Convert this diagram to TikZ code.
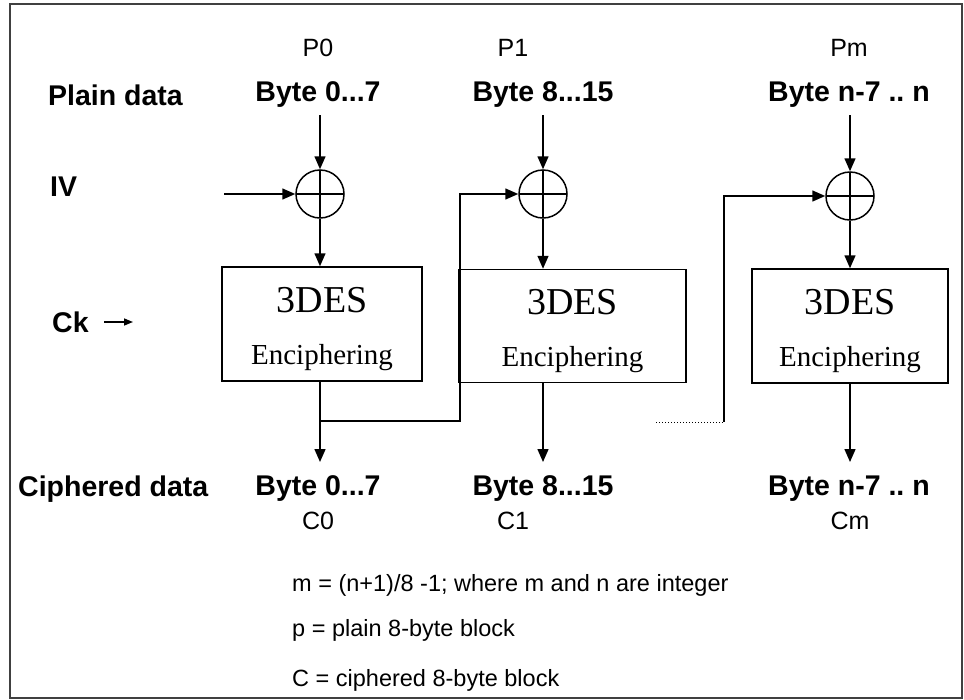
\documentclass[tikz,border=0pt]{standalone}
\usepackage{fontspec}
\setmainfont{Liberation Sans}
\newfontfamily\serifface{Liberation Serif}
\usetikzlibrary{arrows.meta}
\frenchspacing

\tikzset{
  lbl/.style={inner sep=0pt, font=\fontsize{28.5}{32}\selectfont\bfseries},
  idx/.style={inner sep=0pt, font=\fontsize{25}{30}\selectfont},
  note/.style={inner sep=0pt, anchor=west, font=\fontsize{23.5}{27}\selectfont},
  xorop/.style={circle, draw, line width=1.5pt, minimum size=48pt, inner sep=0pt,
    path picture={\draw[line width=1.2pt] (path picture bounding box.north) -- (path picture bounding box.south)
                  (path picture bounding box.west) -- (path picture bounding box.east);}},
  desbox/.style={draw, line width=1.5pt, inner sep=0pt},
  flow/.style={line width=1.5pt, -{Triangle[length=13pt,width=11pt]}},
}

\begin{document}
\begin{tikzpicture}[x=1pt,y=-1pt]
  \useasboundingbox (0,0) rectangle (964,699);
  % outer frame
  \draw[line width=2pt, black!75] (10,4) rectangle (962,698);

  % column headers
  \node[idx] (p0) at (318,48) {P0};
  \node[idx] (p1) at (513,48) {P1};
  \node[idx] (pm) at (849,48) {Pm};

  \node[lbl, anchor=west] (plain) at (48,95) {Plain data};
  \node[lbl] (in0) at (318,95) {Byte 0...7};
  \node[lbl] (in1) at (543,95) {Byte 8...15};
  \node[lbl] (inm) at (849,95) {Byte n-7 .. n};

  \node[lbl, anchor=west] (iv) at (50,187) {IV};
  \node[lbl, anchor=west] (ck) at (52,322) {Ck};

  % XOR operators
  \node[xorop] (x0) at (320,194) {};
  \node[xorop] (x1) at (543,194) {};
  \node[xorop] (xm) at (850,196) {};

  % cipher blocks
  \node[desbox, minimum width=200pt, minimum height=114pt] (b0) at (322,324) {};
  \node[desbox, minimum width=227pt, minimum height=113pt] (b1) at (572.5,326) {};
  \node[desbox, minimum width=196pt, minimum height=114pt] (bm) at (850,326) {};
  \foreach \b in {b0,b1,bm}{
    \node[inner sep=0pt, font=\serifface\fontsize{38}{40}\selectfont] at ([yshift=24pt]\b.center) {3DES};
    \node[inner sep=0pt, font=\serifface\fontsize{29}{32}\selectfont] at ([yshift=-34pt]\b.center) {Enciphering};
  }

  % bottom labels
  \node[lbl, anchor=west] (ciph) at (18,489) {Ciphered data};
  \node[lbl] (out0) at (318,489) {Byte 0...7};
  \node[lbl] (out1) at (543,489) {Byte 8...15};
  \node[lbl] (outm) at (849,489) {Byte n-7 .. n};

  \node[idx] (c0) at (318,521) {C0};
  \node[idx] (c1) at (513,521) {C1};
  \node[idx] (cm) at (850,521) {Cm};

  % helper points for wires
  \coordinate (ivs) at (224,194);
  \coordinate (cks) at (104,322);
  \coordinate (cke) at (133,322);
  \coordinate (s0) at (320,115);
  \coordinate (s1) at (543,115);
  \coordinate (sm) at (850,115);
  \coordinate (e0) at (320,462);
  \coordinate (e1) at (543,462);
  \coordinate (em) at (850,462);
  \coordinate (t0) at (320,421);
  \coordinate (u0) at (460,421);
  \coordinate (u0t) at (460,194);
  \coordinate (dots) at (656,422);
  \coordinate (u1) at (724,422);
  \coordinate (u1t) at (724,196);

  % data flow
  \draw[flow] (ivs) -- (x0.west);
  \draw[line width=1.5pt, -{Triangle[length=9pt,width=7pt]}] (cks) -- (cke);
  \draw[flow] (s0) -- (x0.north);
  \draw[flow] (s1) -- (x1.north);
  \draw[flow] (sm) -- (xm.north);
  \draw[flow] (x0.south) -- (b0.north -| x0);
  \draw[flow] (x1.south) -- (b1.north -| x1);
  \draw[flow] (xm.south) -- (bm.north -| xm);
  \draw[flow] (b0.south -| x0) -- (e0);
  \draw[flow] (b1.south -| x1) -- (e1);
  \draw[flow] (bm.south -| xm) -- (em);

  % chaining
  \draw[flow] (t0) -- (u0) -- (u0t) -- (x1.west);
  \draw[line width=1pt, dotted] (dots) -- (u1);
  \draw[flow] (u1) -- (u1t) -- (xm.west);

  % notes
  \node[note] (n1) at (292,585) {m = (n+1)/8 -1; where m and n are integer};
  \node[note] (n2) at (292,630) {p = plain 8-byte block};
  \node[note] (n3) at (292,680) {C = ciphered 8-byte block};
\end{tikzpicture}
\end{document}
